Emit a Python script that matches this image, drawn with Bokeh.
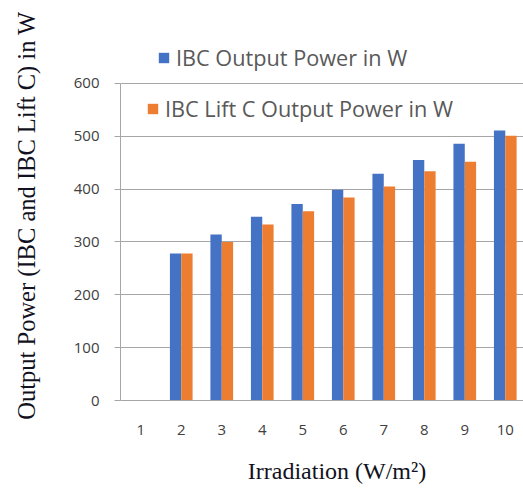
import math
from bokeh.plotting import figure
from bokeh.models import Legend, LegendItem, FixedTicker, Range1d
from bokeh.embed import file_html
from bokeh.resources import INLINE

categories = [1, 2, 3, 4, 5, 6, 7, 8, 9, 10]
ibc_power = [0, 278, 314, 348, 372, 399, 429, 455, 486, 511]
lift_power = [0, 278, 300, 333, 358, 384, 405, 434, 452, 501]
y_ticks = [0, 100, 200, 300, 400, 500, 600]
series_names = ["IBC Output Power in W", "IBC Lift C Output Power in W"]
x_title = "Irradiation (W/m²)"
y_title = "Output Power (IBC and IBC Lift C) in W"

BLUE = "#4472C4"
ORANGE = "#ED7D31"
GRAY = "#a6a6a6"

p = figure(width=523, height=489, output_backend="svg", toolbar_location=None,
           x_range=Range1d(0.5, 10.45), y_range=Range1d(0, 700.3),
           min_border_left=120, min_border_right=0, min_border_top=30, min_border_bottom=89)
p.outline_line_color = None
p.background_fill_color = "white"

bw = 0.28
r1 = p.vbar(x=[c - bw / 2 for c in categories], top=ibc_power, width=bw,
            fill_color=BLUE, line_color=None)
r2 = p.vbar(x=[c + bw / 2 for c in categories], top=lift_power, width=bw,
            fill_color=ORANGE, line_color=None)

# axes
p.xgrid.grid_line_color = None
p.ygrid.grid_line_color = GRAY
p.ygrid.grid_line_width = 1
p.yaxis.ticker = FixedTicker(ticks=y_ticks)
p.yaxis.bounds = (y_ticks[0], y_ticks[-1])
p.xaxis.ticker = FixedTicker(ticks=categories)
for ax in (p.xaxis[0], p.yaxis[0]):
    ax.axis_line_color = GRAY
    ax.major_tick_line_color = GRAY
    ax.minor_tick_line_color = None
    ax.major_label_text_font = "Open Sans"
    ax.major_label_text_font_size = "15px"
    ax.major_label_text_color = "#404040"
    ax.axis_label_text_font = "Liberation Serif"
    ax.axis_label_text_font_style = "normal"
    ax.axis_label_text_color = "#111122"
p.yaxis.major_tick_in = 0
p.yaxis.major_tick_out = 6
p.yaxis.major_label_standoff = 15
p.xaxis.major_tick_in = 0
p.xaxis.major_tick_out = 0
p.xaxis.major_label_standoff = 24

# axis titles
p.yaxis.axis_label = y_title
p.yaxis.axis_label_text_font_size = "24.5px"
p.yaxis.axis_label_standoff = 31

# leading no-break spaces nudge the centred title to the right, as in the reference
p.xaxis.axis_label = "\u00a0" * 5 + x_title
p.xaxis.axis_label_text_font_size = "24px"
p.xaxis.axis_label_standoff = 20

# legends
for name, r, loc in ((series_names[0], r1, (37, 328)), (series_names[1], r2, (26, 277))):
    lg = Legend(items=[LegendItem(label=name, renderers=[r])], location=loc,
                label_text_font="Open Sans", label_text_font_size="21.7px",
                label_text_color="#595959", glyph_width=13, glyph_height=13,
                label_standoff=6, padding=0, margin=0, spacing=0,
                border_line_color=None, background_fill_alpha=0)
    p.add_layout(lg, "center")

open("out.html", "w").write(file_html(p, INLINE))
